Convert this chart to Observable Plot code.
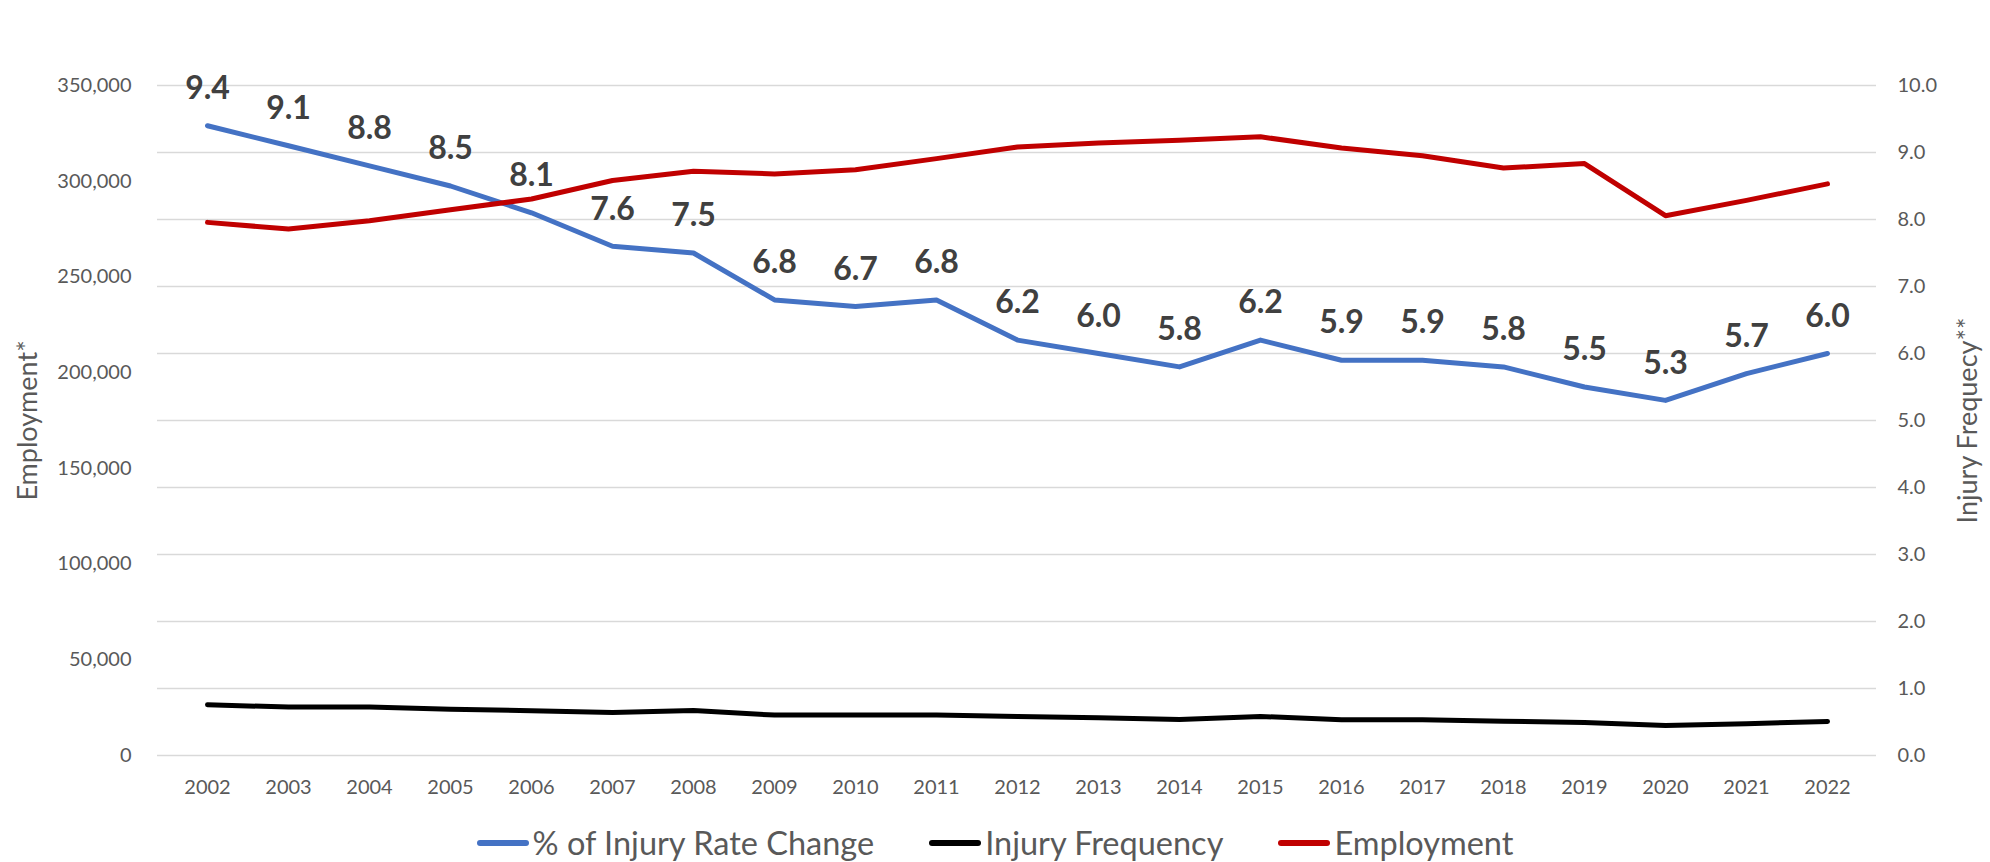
<!DOCTYPE html>
<html>
<head>
<meta charset="utf-8">
<script src="https://cdn.jsdelivr.net/npm/d3@7"></script>
<script src="https://cdn.jsdelivr.net/npm/@observablehq/plot@0.6"></script>
<style>
  html, body { margin: 0; padding: 0; background: #fff; }
  body { width: 1990px; height: 862px; overflow: hidden; font-family: Lato, sans-serif; }
  #legend { display: flex; justify-content: center; align-items: center; height: 66px; gap: 55px; }
  .item { display: flex; align-items: center; }
  .sw { width: 52px; height: 6px; border-radius: 3px; margin-right: 4px; }
  .lab { font-size: 32.5px; color: #595959; line-height: 1; }
</style>
</head>
<body>
<div id="chart"></div>
<div id="legend"></div>
<script>
// ---- data ----
const years = ["2002","2003","2004","2005","2006","2007","2008","2009","2010","2011","2012","2013","2014","2015","2016","2017","2018","2019","2020","2021","2022"];
const injuryRateChange = [9.4, 9.1, 8.8, 8.5, 8.1, 7.6, 7.5, 6.8, 6.7, 6.8, 6.2, 6.0, 5.8, 6.2, 5.9, 5.9, 5.8, 5.5, 5.3, 5.7, 6.0];
const injuryFrequency = [26500, 25300, 25300, 24200, 23400, 22500, 23500, 21100, 21100, 21100, 20400, 19700, 18800, 20400, 18700, 18700, 17900, 17300, 15700, 16600, 17800];
const employment = [278500, 275000, 279400, 285100, 290700, 300400, 305200, 303800, 306000, 311800, 317900, 320000, 321400, 323200, 317300, 313300, 306900, 309200, 282000, 290000, 298600];
const leftTicks = [0, 50000, 100000, 150000, 200000, 250000, 300000, 350000];
const rightTicks = [0, 1, 2, 3, 4, 5, 6, 7, 8, 9, 10];
const seriesNames = ["% of Injury Rate Change", "Injury Frequency", "Employment"];
const seriesColors = ["#4472C4", "#000000", "#C00000"];
const leftTitle = "Employment*";
const rightTitle = "Injury Frequecy**";

// left axis (0–350,000) shares the frame with right axis (0–10)
const SCALE = 35000;
const data = years.map((year, i) => ({
  year,
  rate: injuryRateChange[i],
  freq: injuryFrequency[i],
  emp: employment[i]
}));

const tickStyle = {fontSize: 20, color: "#595959", label: null, tickSize: 0};

const chart = Plot.plot({
  width: 1990,
  height: 810,
  marginLeft: 157,
  marginRight: 114,
  marginTop: 85,
  marginBottom: 55,
  style: {fontFamily: "Lato, sans-serif", background: "#fff", overflow: "visible"},
  x: {type: "point", domain: years, padding: 0.5},
  y: {domain: [0, 10]},
  marks: [
    Plot.gridY(rightTicks, {stroke: "#d9d9d9", strokeOpacity: 1, strokeWidth: 1.3}),
    Plot.axisY(leftTicks.map(v => v / SCALE), {...tickStyle, anchor: "left", tickPadding: 26,
      tickFormat: v => d3.format(",")(Math.round(v * SCALE))}),
    Plot.axisY(rightTicks, {...tickStyle, anchor: "right", tickPadding: 21, tickFormat: d3.format(".1f")}),
    Plot.axisX(years, {...tickStyle, anchor: "bottom", tickPadding: 24}),
    Plot.line(data, {x: "year", y: "rate", stroke: seriesColors[0], strokeWidth: 5, strokeLinejoin: "round", strokeLinecap: "round"}),
    Plot.line(data, {x: "year", y: d => d.freq / SCALE, stroke: seriesColors[1], strokeWidth: 5, strokeLinejoin: "round", strokeLinecap: "round"}),
    Plot.line(data, {x: "year", y: d => d.emp / SCALE, stroke: seriesColors[2], strokeWidth: 5, strokeLinejoin: "round", strokeLinecap: "round"}),
    Plot.text(data, {x: "year", y: "rate", text: d => d3.format(".1f")(d.rate), dy: -37,
      fontSize: 32, fontWeight: "bold", fill: "#404040"}),
    Plot.text([leftTitle], {text: d => d, frameAnchor: "left", textAnchor: "middle", dx: -129, rotate: -90, fontSize: 27, fill: "#595959"}),
    Plot.text([rightTitle], {text: d => d, frameAnchor: "right", textAnchor: "middle", dx: 92, rotate: -90, fontSize: 27, fill: "#595959"})
  ]
});
document.getElementById("chart").appendChild(chart);

const legend = document.getElementById("legend");
seriesNames.forEach((name, i) => {
  const item = document.createElement("div");
  item.className = "item";
  const sw = document.createElement("span");
  sw.className = "sw";
  sw.style.background = seriesColors[i];
  const lab = document.createElement("span");
  lab.className = "lab";
  lab.textContent = name;
  item.appendChild(sw);
  item.appendChild(lab);
  legend.appendChild(item);
});
</script>
</body>
</html>
